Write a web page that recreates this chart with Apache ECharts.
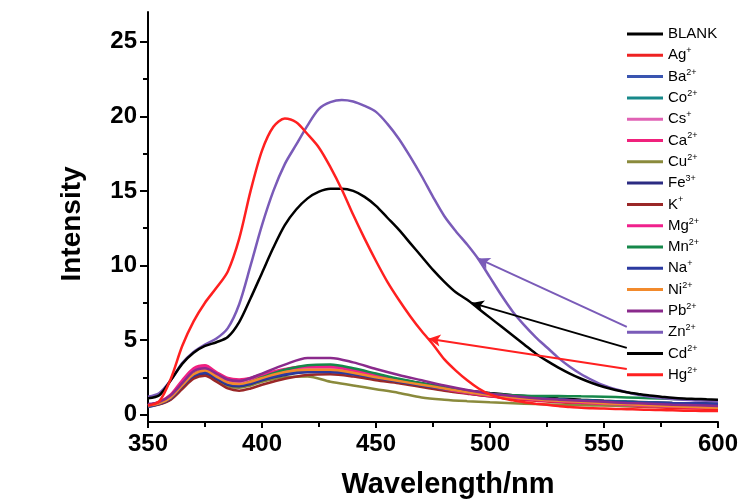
<!DOCTYPE html>
<html lang="en">
<head>
    <meta charset="UTF-8">
    <title>Intensity vs Wavelength</title>
    <script src="https://cdn.jsdelivr.net/npm/echarts@6/dist/echarts.min.js"></script>
    <style>
        html, body { margin: 0; padding: 0; background: #fff; }
    </style>
</head>
<body>
<div id="main" style="width: 742px;height:504px;"></div>
<script>
    // wavelength grid for the three strong curves (nm)
    var wl = [350,355,360,365,370,375,380,385,390,395,400,405,410,415,420,425,430,435,440,445,
              450,455,460,465,470,475,480,485,490,495,500,505,510,515,520,525,530,535,540,545,
              550,555,560,565,570,575,580,585,590,595,600];
    // wavelength grid for the weak curves
    var wlLow = [350,355,360,365,370,375,380,385,390,395,400,410,420,430,440,450,460,470,480,490,
                 500,510,520,530,540,550,560,570,580,590,600];

    var hg = [0.6,0.9,2.4,4.6,6.25,7.5,8.5,9.6,11.8,15.0,17.7,19.3,19.85,19.6,18.8,17.9,16.6,15.1,13.4,11.8,
              10.3,8.9,7.7,6.6,5.6,4.7,3.7,2.95,2.3,1.75,1.35,1.1,0.95,0.82,0.73,0.65,0.57,0.5,0.46,0.42,
              0.4,0.38,0.36,0.34,0.32,0.3,0.28,0.26,0.25,0.24,0.23];
    var zn = [1.2,1.45,2.3,3.45,4.2,4.7,5.1,5.8,7.4,10.0,12.7,15.0,16.8,18.1,19.4,20.5,20.95,21.1,21.0,20.7,
              20.3,19.5,18.5,17.3,16.0,14.6,13.3,12.3,11.4,10.4,9.2,8.0,6.9,6.0,5.2,4.5,3.8,3.2,2.7,2.3,
              1.95,1.7,1.5,1.33,1.2,1.11,1.04,0.99,0.95,0.92,0.9];
    var cd = [1.1,1.3,2.3,3.4,4.15,4.6,4.85,5.2,6.2,7.8,9.5,11.2,12.7,13.75,14.5,14.95,15.15,15.15,15.0,14.6,
              14.0,13.2,12.4,11.5,10.6,9.7,8.9,8.2,7.7,7.1,6.5,5.9,5.3,4.7,4.1,3.6,3.15,2.75,2.4,2.1,
              1.85,1.65,1.5,1.38,1.27,1.2,1.13,1.08,1.05,1.02,1.0];

    var blank = [0.65,0.8,1.15,1.95,2.7,2.9,2.5,2.1,2.0,2.15,2.4,2.8,3.0,3.0,2.85,2.6,2.35,2.1,1.85,1.62,1.45,1.3,1.18,1.08,1.0,0.93,0.87,0.82,0.78,0.75,0.72];
    var ag = [0.6,0.75,1.1,1.9,2.65,2.85,2.45,2.05,1.95,2.1,2.4,2.8,2.95,2.95,2.75,2.45,2.15,1.9,1.65,1.42,1.22,1.05,0.92,0.82,0.72,0.64,0.56,0.5,0.44,0.4,0.36];
    var ba = [0.5,0.7,1.05,1.85,2.55,2.75,2.4,2.0,1.95,2.1,2.35,2.7,2.9,2.95,2.8,2.55,2.3,2.05,1.8,1.55,1.38,1.25,1.12,1.02,0.95,0.9,0.85,0.8,0.76,0.72,0.7];
    var co = [0.55,0.72,1.1,1.9,2.6,2.8,2.45,2.05,1.95,2.1,2.35,2.75,3.0,3.05,2.85,2.55,2.25,1.95,1.7,1.5,1.35,1.22,1.1,1.0,0.95,0.9,0.85,0.8,0.75,0.7,0.68];
    var cs = [0.6,0.8,1.2,2.05,2.8,3.0,2.6,2.2,2.1,2.25,2.5,2.9,3.1,3.1,2.9,2.6,2.3,2.0,1.72,1.48,1.28,1.12,1.0,0.9,0.82,0.75,0.68,0.62,0.57,0.52,0.48];
    var ca = [0.65,0.85,1.35,2.3,3.1,3.3,2.85,2.45,2.35,2.45,2.7,3.05,3.25,3.25,3.0,2.65,2.35,2.05,1.75,1.5,1.3,1.15,1.0,0.9,0.82,0.75,0.68,0.6,0.55,0.5,0.46];
    var cu = [0.6,0.72,1.05,1.8,2.5,2.7,2.3,1.9,1.8,1.95,2.2,2.5,2.55,2.2,1.95,1.7,1.45,1.15,1.0,0.9,0.82,0.76,0.7,0.66,0.62,0.6,0.58,0.56,0.54,0.52,0.5];
    var fe = [0.6,0.75,1.1,1.85,2.55,2.75,2.4,2.0,1.9,2.05,2.3,2.65,2.85,2.85,2.7,2.45,2.2,1.95,1.72,1.5,1.32,1.18,1.05,0.96,0.9,0.85,0.8,0.76,0.72,0.7,0.68];
    var k = [0.55,0.68,1.0,1.7,2.4,2.6,2.2,1.75,1.6,1.75,2.0,2.4,2.65,2.7,2.55,2.3,2.1,1.85,1.6,1.4,1.22,1.1,0.98,0.88,0.82,0.76,0.7,0.66,0.62,0.58,0.55];
    var mg = [0.6,0.8,1.3,2.2,3.0,3.2,2.75,2.35,2.25,2.4,2.65,3.0,3.2,3.2,2.95,2.6,2.3,2.0,1.7,1.45,1.25,1.1,0.98,0.88,0.8,0.72,0.65,0.58,0.52,0.48,0.45];
    var mn = [0.6,0.75,1.15,1.95,2.7,2.9,2.5,2.1,2.0,2.2,2.5,3.0,3.3,3.35,3.1,2.75,2.4,2.1,1.8,1.55,1.4,1.3,1.25,1.25,1.22,1.2,1.15,1.1,1.05,1.0,0.95];
    var na = [0.55,0.72,1.1,1.9,2.6,2.8,2.45,2.05,1.95,2.1,2.35,2.7,2.85,2.85,2.7,2.45,2.2,1.95,1.72,1.5,1.33,1.2,1.08,1.0,0.93,0.88,0.83,0.8,0.77,0.75,0.72];
    var ni = [0.6,0.75,1.15,1.95,2.7,2.95,2.55,2.15,2.05,2.2,2.45,2.85,3.0,3.0,2.8,2.5,2.25,2.0,1.75,1.5,1.3,1.15,1.02,0.92,0.85,0.76,0.7,0.62,0.55,0.5,0.45];
    var pb = [0.7,0.85,1.3,2.1,2.9,3.1,2.75,2.35,2.25,2.45,2.75,3.35,3.8,3.8,3.5,3.05,2.65,2.3,1.95,1.65,1.4,1.25,1.1,1.0,0.92,0.85,0.78,0.72,0.66,0.62,0.58];

    // legend: [name, superscript, colour, data, grid]
    var ions = [
        ['BLANK', '',   '#000000', blank, wlLow],
        ['Ag',    '+',  '#ee2222', ag,    wlLow],
        ['Ba',    '2+', '#3a55b0', ba,    wlLow],
        ['Co',    '2+', '#17898a', co,    wlLow],
        ['Cs',    '+',  '#e062b4', cs,    wlLow],
        ['Ca',    '2+', '#f0217c', ca,    wlLow],
        ['Cu',    '2+', '#8a8a3c', cu,    wlLow],
        ['Fe',    '3+', '#2b2b82', fe,    wlLow],
        ['K',     '+',  '#9a2727', k,     wlLow],
        ['Mg',    '2+', '#f0208c', mg,    wlLow],
        ['Mn',    '2+', '#16884a', mn,    wlLow],
        ['Na',    '+',  '#2b3aa0', na,    wlLow],
        ['Ni',    '2+', '#f28a2c', ni,    wlLow],
        ['Pb',    '2+', '#8a2a8c', pb,    wlLow],
        ['Zn',    '2+', '#7a5bb8', zn,    wl],
        ['Cd',    '2+', '#000000', cd,    wl],
        ['Hg',    '2+', '#ff2020', hg,    wl]
    ];

    // arrows from the legend to the curves: [series, from, to]
    var arrows = [
        ['Zn', [560, 5.88], [494.7, 10.47]],
        ['Cd', [560, 4.47], [492, 7.49]],
        ['Hg', [560, 3.06], [473, 5.09]]
    ];

    var yMajor = [0, 5, 10, 15, 20, 25];
    var yMinor = [2.5, 7.5, 12.5, 17.5, 22.5];

    var supOf = {};
    var series = ions.map(function (d) {
        supOf[d[0]] = d[1];
        var s = {
            name: d[0],
            type: 'line',
            showSymbol: false,
            symbol: 'none',
            smooth: 0.3,
            color: d[2],
            lineStyle: { width: 2.5, color: d[2] },
            data: d[4].map(function (x, i) { return [x, d[3][i]]; })
        };
        arrows.forEach(function (a) {
            if (a[0] === d[0]) {
                s.markLine = {
                    silent: true,
                    symbol: ['none', 'arrow'],
                    symbolSize: [9, 12],
                    label: { show: false },
                    lineStyle: { color: d[2], width: 2, type: 'solid' },
                    data: [[{ coord: a[1] }, { coord: a[2] }]]
                };
            }
        });
        return s;
    });

    var myChart = echarts.init(document.getElementById('main'));
    var option = {
        animation: false,
        backgroundColor: '#fff',
        grid: { left: 148, right: 24, top: 12, bottom: 77 },
        legend: {
            orient: 'vertical',
            left: 627,
            top: 25,
            padding: 0,
            icon: 'rect',
            itemWidth: 36,
            itemHeight: 3,
            itemGap: 4.8,
            selectedMode: false,
            formatter: function (name) {
                return '{b|' + name + '}{s|' + supOf[name] + '}';
            },
            textStyle: {
                rich: {
                    b: { fontFamily: 'Liberation Sans', fontSize: 15, color: '#000', lineHeight: 18, verticalAlign: 'middle' },
                    s: { fontFamily: 'Liberation Sans', fontSize: 9, color: '#000', lineHeight: 10, verticalAlign: 'top' }
                }
            }
        },
        xAxis: {
            type: 'value',
            min: 350,
            max: 600,
            interval: 50,
            name: 'Wavelength/nm',
            nameLocation: 'middle',
            nameGap: 48,
            nameTextStyle: { fontFamily: 'Liberation Sans', fontWeight: 'bold', fontSize: 29, color: '#000', padding: [0, 0, 0, 30] },
            axisLine: { show: true, onZero: false, lineStyle: { color: '#000', width: 2 } },
            axisTick: { show: true, inside: false, length: 6, lineStyle: { color: '#000', width: 2 } },
            minorTick: { show: true, splitNumber: 2, length: 5, lineStyle: { color: '#000', width: 2 } },
            axisLabel: { fontFamily: 'Liberation Sans', fontWeight: 'bold', fontSize: 24, color: '#000', margin: 10 },
            splitLine: { show: false }
        },
        yAxis: [{
            type: 'value',
            min: -0.5,
            max: 27,
            name: 'Intensity',
            nameLocation: 'middle',
            nameGap: 62,
            nameTextStyle: { fontFamily: 'Liberation Sans', fontWeight: 'bold', fontSize: 28, color: '#000', padding: [0, 14, 0, 0] },
            axisLine: { show: true, onZero: false, lineStyle: { color: '#000', width: 2 } },
            axisTick: { show: true, inside: false, length: 8, customValues: yMajor, lineStyle: { color: '#000', width: 2 } },
            axisLabel: { fontFamily: 'Liberation Sans', fontWeight: 'bold', fontSize: 24, color: '#000', margin: 11, customValues: yMajor },
            splitLine: { show: false }
        }, {
            type: 'value',
            position: 'left',
            min: -0.5,
            max: 27,
            axisLine: { show: false },
            axisTick: { show: true, inside: false, length: 5, customValues: yMinor, lineStyle: { color: '#000', width: 2 } },
            axisLabel: { show: false },
            splitLine: { show: false }
        }],
        series: series
    };
    myChart.setOption(option);
</script>
</body>
</html>
